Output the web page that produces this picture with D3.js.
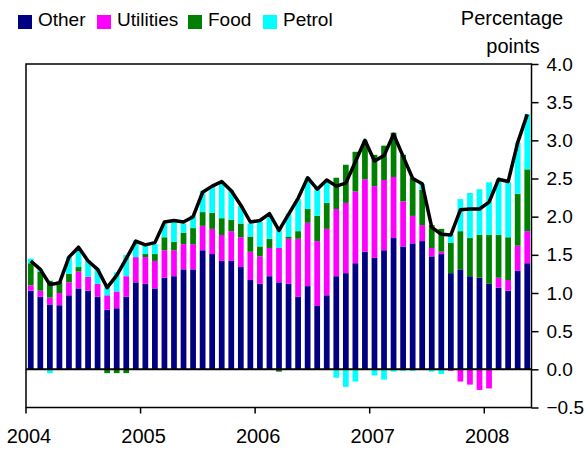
<!DOCTYPE html>
<html>
<head>
<meta charset="utf-8">
<script src="https://cdn.jsdelivr.net/npm/d3@7"></script>
<style>
  body { margin: 0; background: #fff; }
  svg text { font-family: "Liberation Sans", Arial, sans-serif; fill: #000; }
</style>
</head>
<body>
<svg width="584" height="450"></svg>
<script>
// Monthly contributions, Jan 2004 - May 2008 (percentage points)
var years = [2004, 2005, 2006, 2007, 2008];
var months = [];
years.forEach(function(y) {
    for (var m = 1; m <= 12; m++) {
        if (y === 2008 && m > 5) break;
        months.push(y + '-' + (m < 10 ? '0' + m : m));
    }
});

var other = [1.03,0.95,0.85,0.84,0.97,1.06,1.03,0.95,0.78,0.80,0.95,1.14,
             1.12,1.06,1.20,1.22,1.31,1.31,1.56,1.51,1.42,1.42,1.34,1.17,
             1.12,1.22,1.14,1.12,0.95,1.09,0.83,0.97,1.22,1.26,1.39,1.54,
             1.46,1.56,1.72,1.61,1.65,1.68,1.48,1.51,1.26,1.31,1.22,1.20,
             1.12,1.07,1.03,1.29,1.39];
var utilities = [0.07,0.08,0.09,0.16,0.17,0.22,0.18,0.17,0.19,0.22,0.27,0.33,
             0.35,0.36,0.36,0.34,0.33,0.33,0.32,0.33,0.34,0.39,0.39,0.37,
             0.36,0.37,0.45,0.59,0.76,0.83,0.85,0.87,0.88,0.92,0.94,0.95,
             0.94,0.92,0.80,0.59,0.36,0.21,0.11,0.03,-0.02,-0.16,-0.20,-0.27,
             -0.25,0.13,0.14,0.33,0.42];
var food = [0.29,0.25,0.22,0.15,0.11,0.06,0,0,-0.05,-0.05,-0.05,0,
             0.04,0.09,0.17,0.11,0.15,0.21,0.18,0.21,0.22,0.15,0.18,0.20,
             0.13,0.12,-0.03,0.03,0.10,0.18,0.33,0.34,0.41,0.50,0.52,0.49,
             0.41,0.45,0.58,0.61,0.50,0.46,0.30,0.30,0.40,0.50,0.50,0.56,
             0.64,0.56,0.56,0.68,0.81];
var petrol = [0.06,0.03,-0.05,0,0.22,0.24,0.22,0.20,0.14,0.25,0.28,0.22,
             0.12,0.13,0.18,0.29,0.12,0.17,0.28,0.35,0.46,0.39,0.23,0.17,
             0.32,0.29,0.26,0.30,0.42,0.41,0.36,0.29,-0.11,-0.23,-0.16,0.02,
             -0.08,-0.135,-0.03,-0.02,-0.02,0.08,-0.03,-0.06,0.11,0.42,0.59,0.60,
             0.69,0.73,0.72,0.67,0.72];
// black line
var total = [1.42,1.31,1.11,1.13,1.47,1.60,1.42,1.31,1.07,1.23,1.45,1.68,
             1.63,1.66,1.93,1.95,1.93,2.00,2.32,2.40,2.46,2.34,2.15,1.93,
             1.95,2.04,1.82,2.03,2.24,2.51,2.36,2.48,2.40,2.44,2.72,3.00,
             2.73,2.80,3.08,2.79,2.50,2.43,1.86,1.77,1.76,2.09,2.10,2.10,
             2.19,2.49,2.46,2.97,3.34];

var seriesNames = ['Other', 'Utilities', 'Food', 'Petrol'];
var seriesColors = ['#000080', '#FF00FF', '#008000', '#00FFFF'];
var yTicks = [-0.5, 0, 0.5, 1, 1.5, 2, 2.5, 3, 3.5, 4];

var table = months.map(function(m, i) {
    return {month: m, Other: other[i], Utilities: utilities[i], Food: food[i], Petrol: petrol[i]};
});

var svg = d3.select('svg');
var plot = {l: 26, r: 532, t: 64, b: 407.5};

var xScale = d3.scaleBand()
    .domain(months)
    .range([plot.l, plot.r])
    .paddingInner(0.4)
    .paddingOuter(0.2);
var step = xScale.step();

var yScale = d3.scaleLinear()
    .domain([-0.5, 4])
    .range([plot.b, plot.t]);

var stacked = d3.stack()
    .keys(seriesNames)
    .offset(d3.stackOffsetDiverging)(table);

// bars
var layers = svg.append('g').selectAll('g')
    .data(stacked)
    .enter().append('g')
    .attr('fill', function(d, i) { return seriesColors[i]; });

layers.selectAll('rect')
    .data(function(d) { return d; })
    .enter().append('rect')
    .attr('x', function(d) { return xScale(d.data.month); })
    .attr('width', xScale.bandwidth())
    .attr('y', function(d) { return yScale(Math.max(d[0], d[1])); })
    .attr('height', function(d) { return Math.abs(yScale(d[0]) - yScale(d[1])); });

// zero line
svg.append('line')
    .attr('x1', plot.l).attr('x2', plot.r - 0.5)
    .attr('y1', yScale(0)).attr('y2', yScale(0))
    .attr('stroke', '#000').attr('stroke-width', 2);

// total line
var line = d3.line()
    .x(function(d, i) { return xScale(months[i]) + xScale.bandwidth() / 2; })
    .y(function(d) { return yScale(d); });

svg.append('path')
    .datum(total)
    .attr('d', line)
    .attr('fill', 'none')
    .attr('stroke', '#000')
    .attr('stroke-width', 3.5)
    .attr('stroke-linejoin', 'round');

// frame
svg.append('rect')
    .attr('x', plot.l).attr('y', plot.t)
    .attr('width', plot.r - 0.5 - plot.l).attr('height', plot.b - plot.t)
    .attr('fill', 'none').attr('stroke', '#000').attr('stroke-width', 1.5);

// right axis
var yAxisG = svg.append('g')
    .attr('transform', 'translate(' + (plot.r - 0.5) + ',0)')
    .call(d3.axisRight(yScale).tickValues(yTicks).tickSize(7).tickPadding(8)
        .tickFormat(d3.format('.1f')));
yAxisG.select('.domain').remove();
yAxisG.selectAll('line').attr('stroke', '#000').attr('stroke-width', 1.5);
yAxisG.selectAll('text')
    .style('font-family', '"Liberation Sans", Arial, sans-serif')
    .style('font-size', '19px');

// bottom axis: year ticks at January
var yearX = d3.scaleOrdinal()
    .domain(years)
    .range(years.map(function(y) { return xScale(y + '-01') - step * 0.2; }));
var xAxisG = svg.append('g')
    .attr('transform', 'translate(0,' + plot.b + ')');
xAxisG.selectAll('line')
    .data(years)
    .enter().append('line')
    .attr('x1', function(d) { return yearX(d); })
    .attr('x2', function(d) { return yearX(d); })
    .attr('y1', 0).attr('y2', 6)
    .attr('stroke', '#000').attr('stroke-width', 1.5);
xAxisG.selectAll('text')
    .data(years)
    .enter().append('text')
    .attr('x', function(d) { return yearX(d) + 3; })
    .attr('y', 35)
    .attr('text-anchor', 'middle')
    .style('font-size', '20px')
    .text(function(d) { return d; });

// axis title
svg.append('text')
    .attr('x', 512).attr('y', 25)
    .attr('text-anchor', 'middle')
    .style('font-size', '20px')
    .text('Percentage');
svg.append('text')
    .attr('x', 513).attr('y', 53)
    .attr('text-anchor', 'middle')
    .style('font-size', '20px')
    .text('points');

// legend
var legendX = [18, 97, 188, 263];
var legend = svg.append('g').selectAll('g')
    .data(seriesNames)
    .enter().append('g')
    .attr('transform', function(d, i) { return 'translate(' + legendX[i] + ',15)'; });
legend.append('rect')
    .attr('width', 14).attr('height', 14)
    .attr('fill', function(d, i) { return seriesColors[i]; });
legend.append('text')
    .attr('x', 20).attr('y', 11)
    .style('font-size', '19px')
    .text(function(d) { return d; });
</script>
</body>
</html>
